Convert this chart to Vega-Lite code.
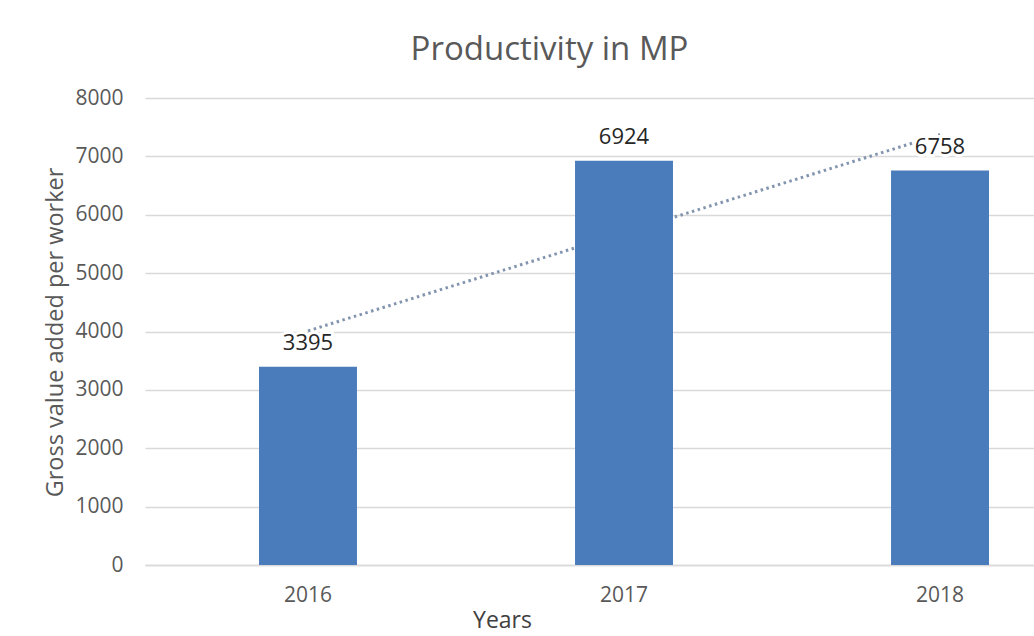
{
  "$schema": "https://vega.github.io/schema/vega-lite/v6.json",
  "autosize": {"type": "none"},
  "padding": {"left": 145, "top": 98, "right": 0, "bottom": 71},
  "width": 889,
  "height": 467,
  "background": "white",
  "config": {
    "font": "Open Sans",
    "view": {"stroke": null}
  },
  "title": {
    "text": "Productivity in MP",
    "fontSize": 33,
    "fontWeight": "normal",
    "color": "#595959",
    "font": "Open Sans",
    "anchor": "middle",
    "frame": "group",
    "dx": -40,
    "dy": 41,
    "baseline": "alphabetic",
    "offset": 35
  },
  "datasets": {
    "bars": [
      {"year": "2016", "value": 3395},
      {"year": "2017", "value": 6924},
      {"year": "2018", "value": 6758}
    ],
    "trend": [
      {"year": "2016", "trend": 4011},
      {"year": "2017", "trend": 5692},
      {"year": "2018", "trend": 7374}
    ]
  },
  "encoding": {
    "x": {
      "field": "year",
      "type": "ordinal",
      "scale": {"paddingInner": 0.69, "paddingOuter": 0.2516, "align": 0.717},
      "axis": {
        "title": "Years",
        "labelAngle": 0,
        "labelFontSize": 21,
        "labelColor": "#595959",
        "labelPadding": 19,
        "ticks": false,
        "domainColor": "#d9d9d9",
        "domainWidth": 1.5,
        "titleFontSize": 23,
        "titleFontWeight": "normal",
        "titleColor": "#404040",
        "titleX": 357,
        "titleY": 55,
        "titleAlign": "center",
        "titleBaseline": "middle"
      }
    }
  },
  "layer": [
    {
      "data": {"name": "bars"},
      "mark": {"type": "bar", "opacity": 0},
      "encoding": {
        "y": {
          "field": "value",
          "type": "quantitative",
          "scale": {"domain": [0, 8000], "nice": false},
          "axis": {
            "title": "Gross value added per worker",
            "values": [0, 1000, 2000, 3000, 4000, 5000, 6000, 7000, 8000],
            "format": "d",
            "labelFontSize": 21,
            "labelColor": "#595959",
            "labelPadding": 22,
            "ticks": false,
            "domain": false,
            "grid": true,
            "gridColor": "#d9d9d9",
            "gridWidth": 1.5,
            "titleFontSize": 23.5,
            "titleFontWeight": "normal",
            "titleColor": "#595959",
            "titleX": -90,
            "titleY": 234,
            "titleAlign": "center",
            "titleBaseline": "middle"
          }
        }
      }
    },
    {
      "data": {"name": "trend"},
      "mark": {"type": "line", "color": "#8294ae", "strokeWidth": 3, "strokeDash": [2.5, 3.5]},
      "encoding": {
        "y": {"field": "trend", "type": "quantitative"}
      }
    },
    {
      "data": {"name": "bars"},
      "mark": {"type": "bar", "color": "#4a7bbb"},
      "encoding": {
        "y": {"field": "value", "type": "quantitative"}
      }
    },
    {
      "data": {"name": "bars"},
      "mark": {"type": "text", "fontSize": 22, "color": "white", "stroke": "white", "strokeWidth": 6, "baseline": "middle", "dy": -24},
      "encoding": {
        "y": {"field": "value", "type": "quantitative"},
        "text": {"field": "value", "type": "nominal"}
      }
    },
    {
      "data": {"name": "bars"},
      "mark": {"type": "text", "fontSize": 22, "color": "#262626", "baseline": "middle", "dy": -24},
      "encoding": {
        "y": {"field": "value", "type": "quantitative"},
        "text": {"field": "value", "type": "nominal"}
      }
    }
  ]
}
